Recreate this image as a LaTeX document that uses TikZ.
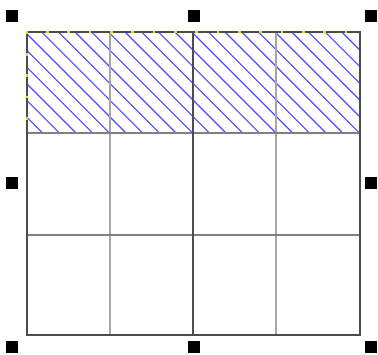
\documentclass[tikz,border=0pt]{standalone}
\usetikzlibrary{positioning}
\tikzstyle{every node}=[inner sep=0pt, outer sep=0pt]
\tikzstyle{handle}=[rectangle, fill=black, minimum size=9.5pt]
\tikzstyle{frame}=[draw=black!70, line width=1.6pt]
\tikzstyle{thin grid}=[draw=black!35, line width=2pt]
\tikzstyle{mid grid}=[draw=black!50, line width=1.5pt]
\tikzstyle{hatch}=[draw=blue!70, line width=0.85pt]

\begin{document}
\begin{tikzpicture}[x=0.75pt, y=-0.75pt]
	\useasboundingbox (0,0) rectangle (378,354);

	% corners of the table
	\coordinate (tl) at (27,32);
	\coordinate (br) at (360,335);

	% hatched first row
	\begin{scope}
		\clip (27,32) rectangle (360,133);
		\foreach \k in {-7,...,20} {
			\draw[hatch] ({25+16.67*\k},32) -- ++(101,101);
		}
	\end{scope}

	% inner grid lines
	\foreach \x in {110,276} {
		\draw[thin grid] (\x,32) -- (\x,335);
	}
	\foreach \y in {133,235} {
		\draw[mid grid] (27,\y) -- (360,\y);
	}
	\draw[frame] (193,32) -- (193,335);

	% outer frame
	\draw[frame] (tl) rectangle (br);

	% selection edge of the row
	\draw[yellow!90!black, line width=1.2pt, dash pattern=on 2pt off 14pt, dash phase=-10pt] (27,133) -- (27,32) -- (360,32);

	% resize handles
	\node[handle] (h1) at (12,16) {};
	\node[handle] (h2) at (194,16) {};
	\node[handle] (h3) at (371,16) {};
	\node[handle] (h4) at (12,183) {};
	\node[handle] (h5) at (371,183) {};
	\node[handle] (h6) at (12,347) {};
	\node[handle] (h7) at (194,347) {};
	\node[handle] (h8) at (371,347) {};

\end{tikzpicture}
\end{document}
